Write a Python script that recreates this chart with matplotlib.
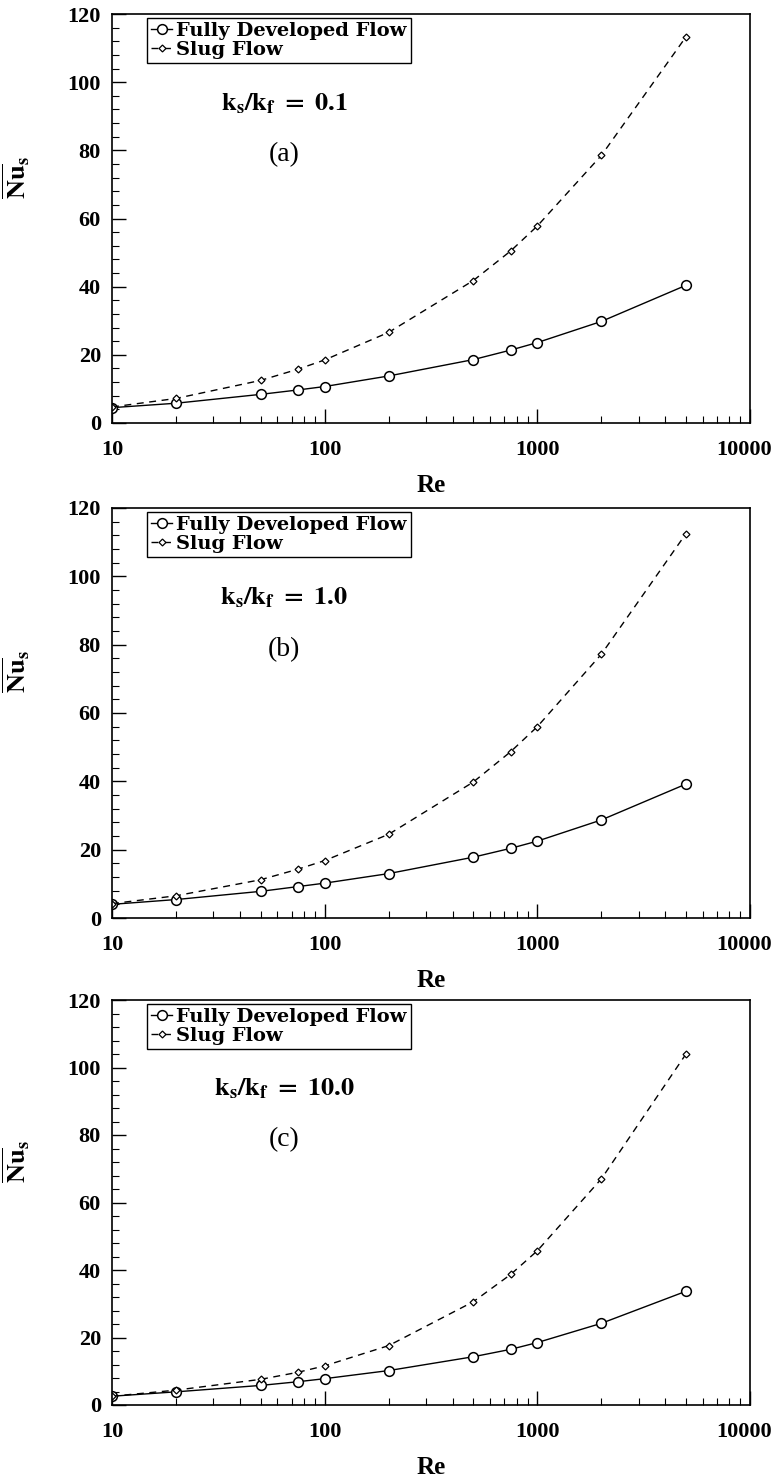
import matplotlib
matplotlib.use("Agg")
import matplotlib.pyplot as plt
import matplotlib.ticker as ticker
import matplotlib.transforms as mtransforms

plt.rcParams["font.family"] = "serif"
plt.rcParams["font.serif"] = ["Liberation Serif", "DejaVu Serif"]
plt.rcParams["mathtext.fontset"] = "stix"

# ---------------------------------------------------------------------------
# Data
# ---------------------------------------------------------------------------
re_values = [10, 20, 50, 75, 100, 200, 500, 750, 1000, 2000, 5000]

# (a) ks/kf = 0.1
fd_a = [4.5, 5.8, 8.4, 9.7, 10.7, 13.8, 18.6, 21.4, 23.6, 29.8, 40.4]
slug_a = [4.7, 7.2, 12.5, 15.8, 18.5, 26.6, 41.8, 50.5, 57.8, 78.5, 113.3]

# (b) ks/kf = 1.0
fd_b = [4.0, 5.4, 7.8, 9.2, 10.2, 13.0, 17.8, 20.4, 22.5, 28.7, 39.2]
slug_b = [4.2, 6.5, 11.2, 14.3, 16.8, 24.5, 39.8, 48.7, 56.0, 77.2, 112.5]

# (c) ks/kf = 10.0
fd_c = [2.6, 3.9, 5.8, 6.9, 7.8, 10.2, 14.3, 16.5, 18.5, 24.2, 33.7]
slug_c = [2.6, 4.4, 7.6, 9.7, 11.6, 17.6, 30.6, 38.7, 45.7, 67.0, 104.0]

ratio_labels = ["0.1", "1.0", "10.0"]
panel_labels = ["(a)", "(b)", "(c)"]
fd_series = [fd_a, fd_b, fd_c]
slug_series = [slug_a, slug_b, slug_c]

x_ticks = [10, 100, 1000, 10000]
y_ticks = [0, 20, 40, 60, 80, 100, 120]

# ---------------------------------------------------------------------------
# Plot
# ---------------------------------------------------------------------------
W, H = 773, 1478
fig = plt.figure(figsize=(W / 100, H / 100), dpi=100)

left, right = 112 / W, 750 / W
panels_px = [(14, 423), (508, 918), (1000, 1405)]
tick_font = {"family": "Liberation Serif", "weight": "bold", "size": 16}

for i, (top_px, bot_px) in enumerate(panels_px):
    ax = fig.add_axes([left, 1 - bot_px / H, right - left, (bot_px - top_px) / H])

    ax.plot(re_values, fd_series[i], "-", color="black", lw=1.0,
            marker="o", ms=7, mfc="white", mec="black", mew=1.1,
            label="Fully Developed Flow")
    ax.plot(re_values, slug_series[i], "--", color="black", lw=1.0,
            dashes=(5, 4), marker="D", ms=3.5, mfc="white", mec="black",
            mew=0.9, label="Slug Flow")

    ax.set_xscale("log")
    ax.set_xlim(10, 10000)
    ax.set_ylim(0, 120)
    ax.set_xticks(x_ticks)
    ax.set_xticklabels([str(v) for v in x_ticks], fontdict=tick_font)
    ax.xaxis.set_minor_locator(ticker.LogLocator(base=10, subs=range(2, 10)))
    ax.xaxis.set_minor_formatter(ticker.NullFormatter())
    ax.set_yticks(y_ticks)
    ax.set_yticklabels([str(v) for v in y_ticks], fontdict=tick_font)
    ax.yaxis.set_minor_locator(ticker.MultipleLocator(4))

    ax.tick_params(which="major", direction="in", length=10, width=1.0, pad=8)
    ax.tick_params(which="minor", direction="in", length=5, width=0.8)
    ax.tick_params(axis="x", which="major", pad=12)
    for sp in ax.spines.values():
        sp.set_linewidth(1.2)

    # keep "10000" inside the figure edge
    last = ax.get_xticklabels()[-1]
    last.set_transform(last.get_transform() +
                       mtransforms.ScaledTranslation(-6 / 100, 0, fig.dpi_scale_trans))

    ax.set_xlabel("Re", fontsize=18, fontweight="bold", labelpad=10,
                  family="Liberation Serif")
    ax.set_ylabel(r"$\mathbf{\overline{Nu}}_{\mathbf{s}}$", fontsize=19,
                  rotation=90)
    ax.yaxis.set_label_coords(-0.125, 0.6)

    leg = ax.legend(loc="upper left", bbox_to_anchor=(0.055, 0.99),
                    fancybox=False, framealpha=1, edgecolor="black",
                    handlelength=1.1, handletextpad=0.2, borderpad=0.2,
                    labelspacing=0.05, borderaxespad=0,
                    prop={"family": "DejaVu Serif", "weight": "bold", "size": 14})
    leg.get_frame().set_linewidth(1.0)

    ax.text(0.27, 0.78, r"$\mathbf{k_{s}/k_{f}\ =\ " + ratio_labels[i] + "}$",
            transform=ax.transAxes, ha="center", va="center", fontsize=19)
    ax.text(0.27, 0.655, panel_labels[i], transform=ax.transAxes,
            ha="center", va="center", fontsize=20, family="Liberation Serif")

fig.savefig("out.png", dpi=100)
